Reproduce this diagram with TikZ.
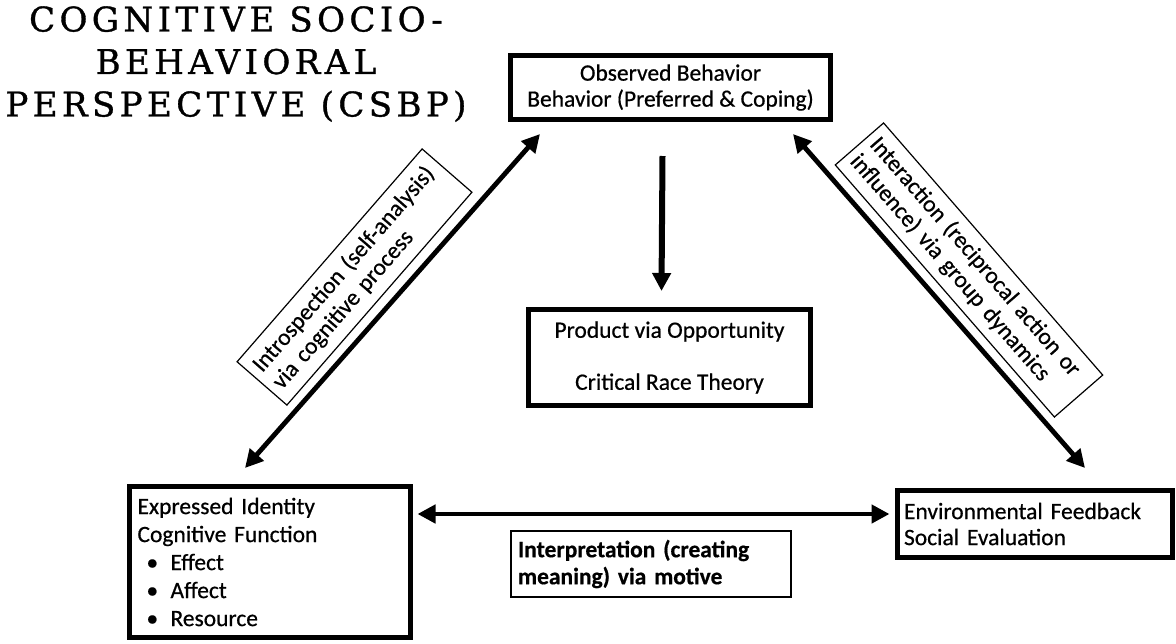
\documentclass[tikz,border=0pt]{standalone}
\usepackage{fontspec}
\setmainfont[FakeBold=0.6]{Carlito}
\newfontfamily\titlefont[LetterSpace=13,FakeBold=1]{DejaVu Serif}
\usetikzlibrary{arrows.meta,calc}
\begin{document}
\begin{tikzpicture}[x=1pt,y=-1pt,
  box/.style={draw, line width=5pt, inner sep=0pt},
  lbl/.style={draw, line width=1.2pt, inner xsep=8pt, inner ysep=4pt, align=left},
  arr/.style={line width=6pt, -{Triangle[length=18pt,width=18pt]}},
  darr/.style={line width=4.8pt, {Triangle[length=18pt,width=18pt]}-{Triangle[length=18pt,width=18pt]}},
  txt/.style={font=\fontsize{23.5}{26}\selectfont}]
\useasboundingbox (0,0) rectangle (1176,643);

% title
\node[align=center, font=\titlefont\fontsize{34}{42.5}\selectfont] (title) at (236,64)
  {COGNITIVE SOCIO-\\BEHAVIORAL\\PERSPECTIVE (CSBP)};

% main boxes
\node[box, txt, minimum width=320, minimum height=64, align=center] (top) at (670.5,87.5)
  {Observed Behavior\\Behavior (Preferred \& Coping)};
\node[box, txt, minimum width=282, minimum height=96, align=center] (ctr) at (669.5,357.5)
  {Product via Opportunity\\[26pt]Critical Race Theory};
\node[box, font=\fontsize{23.5}{28}\selectfont, minimum width=281, minimum height=151,
  text width=265, align=left] (lb) at (270,562)
  {Expressed Identity\\Cognitive Function\\
   \makebox[33pt][l]{\hspace{9pt}•}Effect\\
   \makebox[33pt][l]{\hspace{9pt}•}Affect\\
   \makebox[33pt][l]{\hspace{9pt}•}Resource};
\node[box, txt, minimum width=275, minimum height=67, text width=262, align=left] (rb) at (1035,524)
  {Environmental Feedback\\Social Evaluation};

% label boxes
\node[draw, line width=1.2pt, font=\bfseries\fontsize{23.5}{27}\selectfont, minimum width=280,
  minimum height=66, text width=266, inner sep=0pt, align=left] (interp) at (651,564)
  {Interpretation (creating\\meaning) via motive};
\node[lbl, txt, rotate=49, text width=266, minimum height=66] (intro) at (354.5,277)
  {Introspection (self-analysis)\\via cognitive process};
\node[lbl, txt, rotate=-49, text width=320, inner xsep=7pt, minimum height=64] (inter) at (969,270)
  {Interaction (reciprocal action or\\influence) via group dynamics};

% connectors
\coordinate (hr) at ($(rb.west)+(-5.5,-10)$);
\draw[arr] ($(top.south)+(-8,34)$) -- ($(ctr.north)+(-8,-16)$);
\draw[darr] ($(lb.north)+(-25,-16)$) -- ($(top.south west)+(32,12)$);
\draw[darr] ($(top.south east)+(-40,12)$) -- ($(rb.north)+(50,-20)$);
\draw[darr] ([xshift=4.5pt]lb.east |- hr) -- (hr);
\end{tikzpicture}
\end{document}
